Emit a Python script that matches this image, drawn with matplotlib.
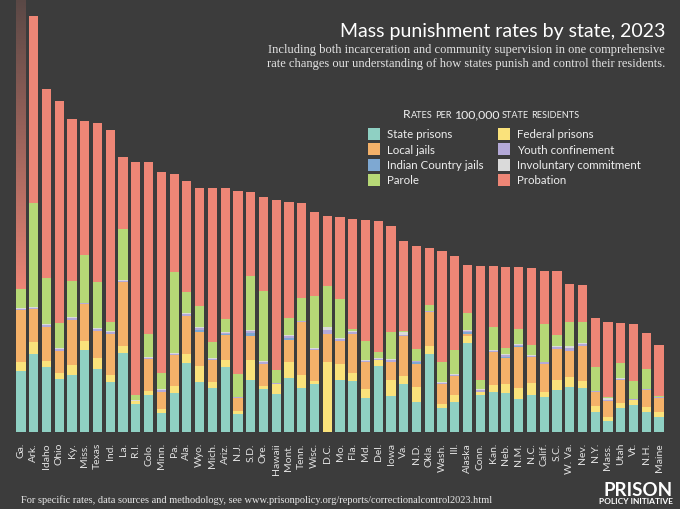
import numpy as np
import matplotlib
matplotlib.use("Agg")
import matplotlib.pyplot as plt
from matplotlib.patches import Rectangle
from matplotlib.colors import to_rgb

# ---------------- data (rates per 100,000 state residents) ----------------
states = ["Ga.", "Ark.", "Idaho", "Ohio", "Ky.", "Miss.", "Texas", "Ind.", "La.", "R.I.",
          "Colo.", "Minn.", "Pa.", "Ala.", "Wyo.", "Mich.", "Ariz.", "N.J.", "S.D.", "Ore.",
          "Hawaii", "Mont.", "Tenn.", "Wisc.", "D.C.", "Mo.", "Fla.", "Md.", "Del.", "Iowa",
          "Va.", "N.D.", "Okla.", "Wash.", "Ill.", "Alaska", "Conn.", "Kan.", "Neb.", "N.M.",
          "N.C.", "Calif.", "S.C.", "W. Va.", "Nev.", "N.Y.", "Mass.", "Utah", "Vt.", "N.H.", "Maine"]

state_prisons = [458, 587, 493, 400, 433, 617, 475, 380, 595, 212,
                 283, 143, 295, 520, 380, 332, 488, 137, 392, 325,
                 290, 405, 330, 362, 0, 395, 385, 255, 500, 275,
                 362, 225, 587, 180, 230, 668, 280, 300, 295, 250,
                 283, 268, 315, 338, 332, 155, 88, 182, 205, 155, 118]
federal_prisons = [68, 88, 45, 45, 73, 65, 80, 50, 55, 20,
                   30, 32, 49, 68, 120, 47, 55, 25, 150, 25,
                   70, 125, 100, 25, 530, 118, 60, 70, 45, 120,
                   58, 113, 62, 32, 50, 58, 25, 55, 68, 83,
                   88, 38, 77, 80, 50, 45, 25, 38, 38, 32, 32]
local_jails = [388, 250, 255, 167, 340, 280, 208, 308, 475, 0,
               238, 130, 235, 287, 255, 163, 190, 92, 182, 163,
               0, 165, 395, 230, 208, 175, 293, 205, 0, 135,
               300, 175, 250, 150, 145, 13, 0, 245, 193, 310,
               193, 208, 233, 195, 268, 100, 120, 175, 0, 130, 110]
indian_country_jails = [0, 0, 0, 0, 0, 0, 0, 0, 0, 0,
                        0, 0, 0, 0, 11, 0, 8, 0, 23, 0,
                        0, 15, 0, 0, 0, 0, 0, 0, 0, 0,
                        0, 11, 5, 0, 0, 11, 0, 0, 8, 8,
                        0, 0, 0, 0, 0, 0, 0, 0, 0, 0, 0]
youth_confinement = [11, 11, 11, 11, 11, 5, 11, 13, 11, 6,
                     8, 12, 9, 12, 13, 9, 5, 8, 13, 12,
                     7, 12, 8, 9, 26, 12, 14, 8, 8, 12,
                     12, 9, 5, 8, 8, 11, 12, 11, 14, 7,
                     8, 11, 15, 20, 12, 8, 10, 6, 5, 5, 5]
involuntary_commitment = [6, 6, 6, 6, 6, 3, 6, 7, 6, 4,
                          5, 8, 6, 8, 8, 6, 4, 5, 7, 8,
                          6, 8, 5, 6, 24, 8, 9, 5, 5, 8,
                          18, 5, 3, 5, 5, 8, 8, 6, 8, 5,
                          5, 6, 10, 12, 8, 5, 15, 4, 3, 3, 3]
parole = [145, 775, 347, 190, 272, 362, 345, 73, 383, 40,
          175, 118, 610, 155, 158, 118, 100, 173, 403, 527,
          95, 128, 167, 392, 313, 293, 11, 145, 43, 200,
          8, 88, 43, 155, 180, 128, 70, 170, 45, 113,
          75, 280, 80, 185, 155, 180, 5, 115, 133, 150, 2]
probation = [4200, 1407, 1418, 1663, 1215, 1005, 1195, 1438, 542, 1742,
             1288, 1508, 730, 835, 887, 1157, 983, 1367, 630, 707,
             1275, 872, 713, 632, 525, 613, 825, 905, 983, 795,
             675, 775, 428, 827, 703, 360, 850, 458, 608, 463,
             580, 400, 480, 280, 278, 362, 568, 300, 430, 270, 383]

series_labels = ["State prisons", "Federal prisons", "Local jails", "Indian Country jails",
                 "Youth confinement", "Involuntary commitment", "Parole", "Probation"]
series_values = [state_prisons, federal_prisons, local_jails, indian_country_jails,
                 youth_confinement, involuntary_commitment, parole, probation]
series_colors = ["#8fd0c3", "#fae27b", "#f4b169", "#7ea8d2",
                 "#b4a9d8", "#dadada", "#b6d876", "#ee8676"]

# ---------------- style ----------------
BG = "#3c3c3c"
W, H = 680, 510
fig = plt.figure(figsize=(W / 100, H / 100), dpi=100, facecolor=BG)


def fx(x):
    return x / W


def fy(y):
    return 1 - y / H


ax = fig.add_axes([fx(14.6), 76.7 / H, 650.8 / W, 433.3 / H])
ax.set_facecolor(BG)
ax.patch.set_alpha(0)

x = np.arange(len(states))
bottom = np.zeros(len(states))
containers = []
for vals, col, lab in zip(series_values, series_colors, series_labels):
    v = np.array(vals, dtype=float)
    bc = ax.bar(x, v, width=0.72, bottom=bottom, color=col, edgecolor="none",
                label=lab, zorder=2)
    containers.append(bc)
    bottom += v

YMAX = 3250
ax.set_ylim(0, YMAX)
ax.set_xlim(-0.5, len(states) - 0.5)

# fade on the off-chart Georgia bar
p = containers[-1].patches[0]
n = 200
grad = np.zeros((n, 1, 4))
grad[:, 0, :3] = to_rgb(BG)
grad[:, 0, 3] = np.linspace(0.0, 0.82, n) ** 0.9
ax.imshow(grad, origin="lower", aspect="auto", zorder=3,
          extent=[p.get_x(), p.get_x() + p.get_width(), p.get_y(), YMAX])
ax.set_ylim(0, YMAX)
ax.set_xlim(-0.5, len(states) - 0.5)

for s in ax.spines.values():
    s.set_visible(False)
ax.set_yticks([])
ax.set_xticks(x)
ax.set_xticklabels(states, rotation=90, fontsize=7.5, color="#e2e2e2", family="Lato",
                   va="top", ha="center")
ax.tick_params(axis="x", length=0, pad=7)

# ---------------- texts ----------------
fig.text(fx(665), fy(37), "Mass punishment rates by state, 2023", ha="right", va="baseline",
         fontsize=14, color="white", family="Lato")
fig.text(fx(665), fy(53.5), "Including both incarceration and community supervision in one comprehensive",
         ha="right", va="baseline", fontsize=9.0, color="#e4e4e4", family="Liberation Serif")
fig.text(fx(665), fy(66.5), "rate changes our understanding of how states punish and control their residents.",
         ha="right", va="baseline", fontsize=9.0, color="#e4e4e4", family="Liberation Serif")

# small-caps legend title
renderer = fig.canvas.get_renderer()
pieces = [("R", 8.8), ("ATES", 6.6), (" ", 6.6), ("PER", 6.6), (" ", 6.6), ("100,000", 8.8),
          (" ", 6.6), ("STATE", 6.6), (" ", 6.6), ("RESIDENTS", 6.6)]
widths = []
for txt, fs in pieces:
    if txt == " ":
        widths.append(fs * 1.39 * 0.26)
        continue
    t = fig.text(0, 0, txt, fontsize=fs, family="Lato")
    widths.append(t.get_window_extent(renderer).width)
    t.remove()
total = sum(widths)
cur = 491 - total / 2
for (txt, fs), wd in zip(pieces, widths):
    if txt != " ":
        fig.text(fx(cur), fy(118.5), txt, fontsize=fs, family="Lato", color="#f0f0f0",
                 ha="left", va="baseline")
    cur += wd

# legend (two columns)
order = [0, 2, 3, 6, 1, 4, 5, 7]
for k, idx in enumerate(order):
    col = k // 4
    row = k % 4
    sx = 368 if col == 0 else 497.7
    tx = 387.3 if col == 0 else 516.7
    cy = 135 + 15.25 * row
    fig.patches.append(Rectangle((fx(sx), fy(cy + 6)), 12 / W, 12 / H,
                                 transform=fig.transFigure, facecolor=series_colors[idx],
                                 edgecolor="none"))
    fig.text(fx(tx), fy(cy), series_labels[idx], fontsize=8.3, family="Lato",
             color="#eeeeee", ha="left", va="center")

fig.text(fx(20.7), fy(503), "For specific rates, data sources and methodology, see "
         "www.prisonpolicy.org/reports/correctionalcontrol2023.html",
         fontsize=7.5, family="Liberation Serif", color="#e8e8e8", ha="left", va="baseline")

fig.text(fx(673), fy(496), "PRISON", fontsize=13.5, family="Lato", weight="bold",
         color="white", ha="right", va="baseline")
fig.text(fx(673), fy(503.8), "POLICY INITIATIVE", fontsize=6.0, family="Lato", weight="bold",
         color="white", ha="right", va="baseline")

fig.savefig("out.png", dpi=100, facecolor=BG)
